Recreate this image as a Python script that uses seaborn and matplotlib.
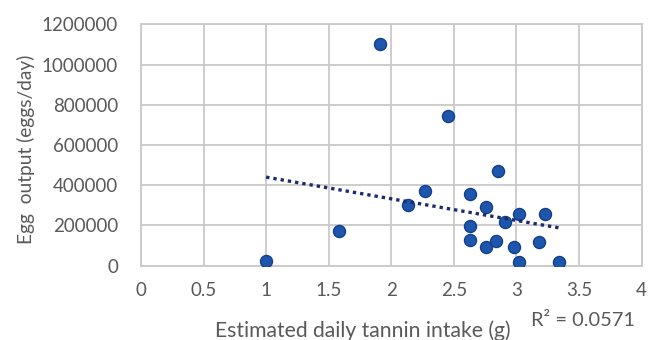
import numpy as np
import pandas as pd
import matplotlib
matplotlib.use("Agg")
import matplotlib.pyplot as plt
import seaborn as sns

# estimated daily tannin intake (g) and egg output (eggs/day)
tannin = [1.00, 1.58, 1.91, 2.13, 2.27, 2.45, 2.63, 2.63, 2.63, 2.76,
          2.76, 2.84, 2.85, 2.91, 2.98, 3.02, 3.02, 3.18, 3.23, 3.34]
eggs = [25000, 172000, 1100000, 301000, 372000, 744000, 354000, 198000, 127000, 292000,
        90000, 122000, 472000, 215000, 90000, 255000, 16000, 118000, 255000, 16000]
r2_label = "R\u00b2 = 0.0571"

df = pd.DataFrame({"tannin": tannin, "eggs": eggs})

sns.set_style("white")
plt.rcParams["font.family"] = ["Lato", "DejaVu Sans"]
text_col = "#595959"
grid_col = "#c9c9c9"

fig = plt.figure(figsize=(6.48, 3.4), dpi=100)
ax = fig.add_axes([0.2176, 0.219, 0.7724, 0.7095])

sns.scatterplot(data=df, x="tannin", y="eggs", ax=ax, s=75, color="#1f56ad",
                edgecolor="#123f8a", linewidth=1.0, zorder=3)
# linear trendline, like the spreadsheet one
sns.regplot(data=df, x="tannin", y="eggs", ax=ax, scatter=False, ci=None,
            line_kws=dict(color="#1c2a6e", ls=(0, (1, 1.2)), lw=2.4, zorder=4))

ax.set_xlim(0, 4)
ax.set_ylim(0, 1200000)
ax.set_xticks(np.arange(0, 4.01, 0.5))
ax.set_xticklabels(["0", "0.5", "1", "1.5", "2", "2.5", "3", "3.5", "4"])
ax.set_yticks(np.arange(0, 1200001, 200000))
ax.set_yticklabels([str(v) for v in range(0, 1200001, 200000)])
ax.grid(True, color=grid_col, lw=1.3)
ax.set_axisbelow(True)
for sp in ax.spines.values():
    sp.set_color(grid_col)
    sp.set_linewidth(1.3)
ax.tick_params(axis="both", length=0, labelsize=13.5, colors=text_col)
ax.tick_params(axis="x", pad=12)
ax.tick_params(axis="y", pad=16.5)

ax.set_xlabel("Estimated daily tannin intake (g)", fontsize=15.2, color=text_col)
ax.set_ylabel("Egg  output (eggs/day)", fontsize=13.8, color=text_col)
ax.xaxis.set_label_coords(0.443, -0.227)
ax.yaxis.set_label_coords(-0.2116, 0.483)

fig.text(531 / 648, 1 - 320 / 340, r2_label, ha="left", va="center",
         fontsize=14.4, color=text_col)

fig.savefig("out.png", dpi=100)
